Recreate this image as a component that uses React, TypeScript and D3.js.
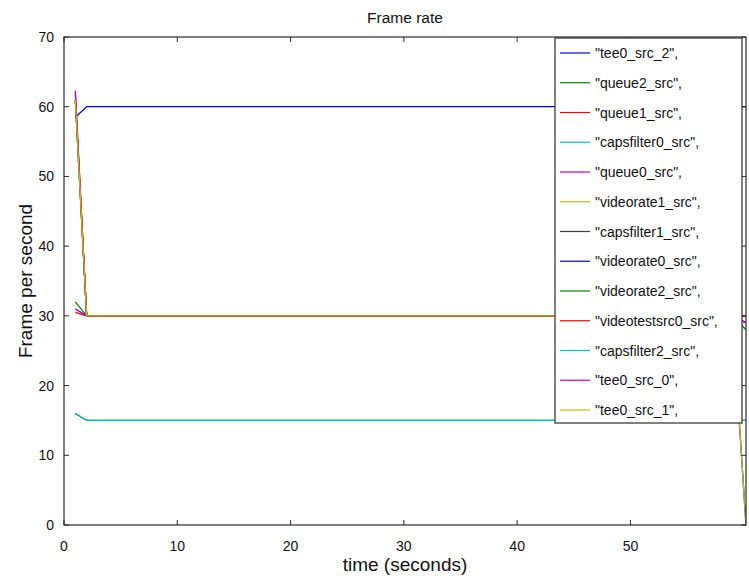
import React from "react";
import * as d3 from "d3";

// Series names in legend order
const seriesNames = [
  '"tee0_src_2",',
  '"queue2_src",',
  '"queue1_src",',
  '"capsfilter0_src",',
  '"queue0_src",',
  '"videorate1_src",',
  '"capsfilter1_src",',
  '"videorate0_src",',
  '"videorate2_src",',
  '"videotestsrc0_src",',
  '"capsfilter2_src",',
  '"tee0_src_0",',
  '"tee0_src_1",',
];

const seriesColors = [
  "#0000ff", "#008000", "#ff0000", "#00bfbf", "#bf00bf", "#bfbf00", "#404040",
  "#0000ff", "#008000", "#ff0000", "#00bfbf", "#bf00bf", "#bfbf00",
];

// Breakpoints [time, fps] per series (values constant between listed points)
const tee0_src_2 = [[1, 61], [2, 30], [59, 30], [60.2, 0]];
const queue2_src = [[1, 32], [2, 30], [59, 30], [60.2, 28]];
const queue1_src = [[1, 30.5], [2, 30], [59, 30], [60.2, 29]];
const capsfilter0_src = [[1, 61], [2, 30], [59, 30], [60.2, 30]];
const queue0_src = [[1, 31], [2, 30], [59, 30], [60.2, 29]];
const videorate1_src = [[1, 61], [2, 30], [59, 30], [60.2, 30]];
const capsfilter1_src = [[1, 61], [2, 30], [59, 30], [60.2, 30]];
const videorate0_src = [[1, 58.5], [2, 60], [59, 60], [60.2, 60]];
const videorate2_src = [[1, 16], [2, 15], [59, 15], [60.2, 15]];
const videotestsrc0_src = [[1, 62], [2, 30], [59, 30], [60.2, 30]];
const capsfilter2_src = [[1, 16], [2, 15], [59, 15], [60.2, 15]];
const tee0_src_0 = [[1, 62.3], [2, 30], [59, 30], [60.2, 29]];
const tee0_src_1 = [[1, 61], [2, 30], [59, 30], [60.2, 0]];

const seriesData = [
  tee0_src_2, queue2_src, queue1_src, capsfilter0_src, queue0_src, videorate1_src,
  capsfilter1_src, videorate0_src, videorate2_src, videotestsrc0_src, capsfilter2_src,
  tee0_src_0, tee0_src_1,
];

const xTicks = [0, 10, 20, 30, 40, 50];
const yTicks = [0, 10, 20, 30, 40, 50, 60, 70];

const W = 749;
const H = 576;
const M = { left: 64, right: 746, top: 37, bottom: 525 };
const FONT = "'Liberation Sans', Arial, Helvetica, sans-serif";

export default function App() {
  const x = d3.scaleLinear().domain([0, 60.2]).range([M.left, M.right]);
  const y = d3.scaleLinear().domain([0, 70]).range([M.bottom, M.top]);
  const line = d3
    .line<number[]>()
    .x((d) => x(d[0]))
    .y((d) => y(d[1]));

  const legX = 555;
  const legY = 38;
  const legW = 742 - 555;
  const legH = 423 - 38;
  const legStep = 29.75;
  const tickLen = 5;
  const frame = "#2b2b2b";

  return (
    <svg
      width={W}
      height={H}
      style={{ position: "absolute", left: 0, top: 0, background: "#fff" }}
      fontFamily={FONT}
    >
      <defs>
        <clipPath id="plotclip">
          <rect x={M.left} y={M.top} width={M.right - M.left} height={M.bottom - M.top} />
        </clipPath>
      </defs>
      <rect x={0} y={0} width={W} height={H} fill="#fff" />
      {/* Title */}
      <text x={405} y={23} textAnchor="middle" fontSize={15.5} fill="#111">
        Frame rate
      </text>

      {/* Lines */}
      <g clipPath="url(#plotclip)">
        {seriesData.map((s, i) => (
          <path
            key={i}
            d={line(s as number[][]) || ""}
            fill="none"
            stroke={seriesColors[i]}
            strokeWidth={1.3}
            strokeLinejoin="round"
          />
        ))}
      </g>

      {/* Frame */}
      <rect
        x={M.left}
        y={M.top}
        width={M.right - M.left}
        height={M.bottom - M.top}
        fill="none"
        stroke={frame}
        strokeWidth={1.2}
      />

      {/* X ticks */}
      {xTicks.map((t) => (
        <g key={"x" + t}>
          <line x1={x(t)} x2={x(t)} y1={M.bottom} y2={M.bottom - tickLen} stroke={frame} strokeWidth={1} />
          <line x1={x(t)} x2={x(t)} y1={M.top} y2={M.top + tickLen} stroke={frame} strokeWidth={1} />
          <text x={x(t)} y={551} textAnchor="middle" fontSize={14} fill="#111">
            {t}
          </text>
        </g>
      ))}

      {/* Y ticks */}
      {yTicks.map((t) => (
        <g key={"y" + t}>
          <line x1={M.left} x2={M.left + tickLen} y1={y(t)} y2={y(t)} stroke={frame} strokeWidth={1} />
          <line x1={M.right} x2={M.right - tickLen} y1={y(t)} y2={y(t)} stroke={frame} strokeWidth={1} />
          <text x={54} y={y(t) + 5} textAnchor="end" fontSize={14} fill="#111">
            {t}
          </text>
        </g>
      ))}

      {/* Axis labels */}
      <text x={405} y={571} textAnchor="middle" fontSize={19} fill="#111">
        time (seconds)
      </text>
      <text
        transform={`translate(32, 281) rotate(-90)`}
        textAnchor="middle"
        fontSize={19}
        fill="#111"
      >
        Frame per second
      </text>

      {/* Legend */}
      <rect x={legX} y={legY} width={legW} height={legH} fill="#fff" stroke={frame} strokeWidth={1.2} />
      {seriesNames.map((n, i) => {
        const yy = 53 + i * legStep;
        return (
          <g key={"l" + i}>
            <line x1={560} x2={590} y1={yy} y2={yy} stroke={seriesColors[i]} strokeWidth={1.2} />
            <text x={595} y={yy + 5} fontSize={14} fill="#111">
              {n}
            </text>
          </g>
        );
      })}
    </svg>
  );
}
